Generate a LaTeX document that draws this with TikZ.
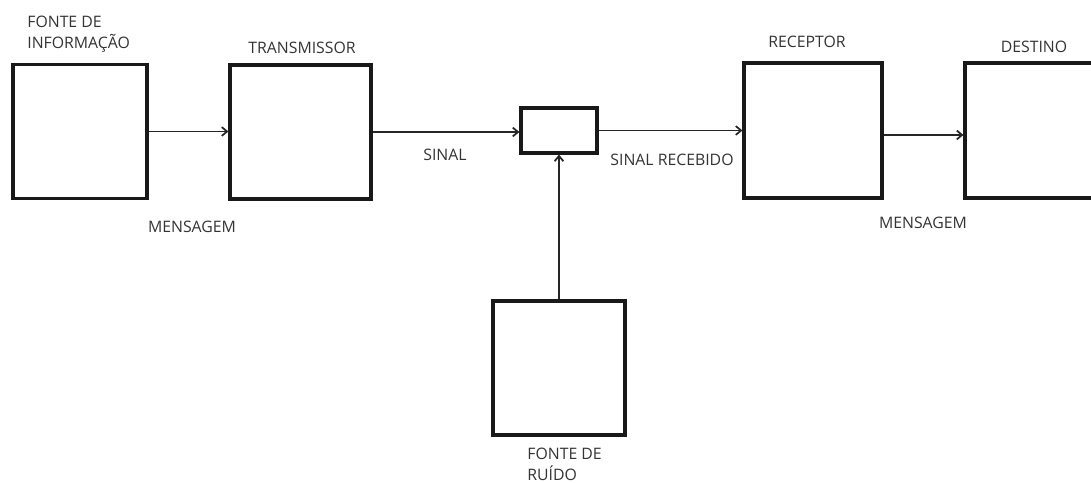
\documentclass[tikz,border=0pt]{standalone}
\usepackage{fontspec}
\setmainfont{Open Sans}
\usetikzlibrary{arrows.meta,positioning}

\begin{document}
\begin{tikzpicture}[
    x=0.02cm, y=-0.02cm,
    font=\fontsize{9}{12}\selectfont,
    % Estilos dos blocos e rótulos
    bloco/.style={rectangle, draw=black!90, line width=1.8pt, inner sep=0pt, minimum height=2.68cm},
    rotulo/.style={align=left, inner sep=0pt, text=black!80},
    seta/.style={-{Straight Barb[length=3pt,width=5pt]}, line width=1pt, draw=black!85}
  ]
  \useasboundingbox (0,0) rectangle (1091,483);

  % Blocos principais
  \node[bloco, minimum width=2.68cm] (fonte) at (80,131.5) {};
  \node[bloco, minimum width=2.82cm] (transmissor) at (300.5,132) {};
  \node[bloco, minimum width=1.52cm, minimum height=0.9cm] (canal) at (559,130.5) {};
  \node[bloco, minimum width=2.76cm, minimum height=2.7cm] (receptor) at (813,130.5) {};
  \node[bloco, minimum width=3.0cm, minimum height=2.7cm] (destino) at (1040,130.5) {};
  \node[bloco, minimum width=2.64cm] (ruido) at (559,368) {};

  % Rótulos
  \node[rotulo, anchor=west] (lfonte) at (27,34.5) {FONTE DE\\INFORMAÇÃO};
  \node[rotulo] (ltransmissor) at (302,48) {TRANSMISSOR};
  \node[rotulo] (lreceptor) at (807,42) {RECEPTOR};
  \node[rotulo] (ldestino) at (1034,47) {DESTINO};
  \node[rotulo] (lmsg1) at (192,227) {MENSAGEM};
  \node[rotulo] (lsinal) at (445,155) {SINAL};
  \node[rotulo] (lrecebido) at (672,160) {SINAL RECEBIDO};
  \node[rotulo] (lmsg2) at (923,223) {MENSAGEM};
  \node[rotulo, anchor=west] (lruido) at (527,464) {FONTE DE\\RUÍDO};

  % Conexões
  \coordinate (saida) at ([yshift=-0.09cm]receptor.east);
  \draw[seta] (fonte.east) -- (transmissor.west |- fonte.east);
  \draw[seta] (transmissor.east) -- (canal.west |- transmissor.east);
  \draw[seta] (canal.east) -- (receptor.west |- canal.east);
  \draw[seta] (saida) -- (destino.west |- saida);
  \draw[seta] (ruido.north) -- (canal.south);
\end{tikzpicture}
\end{document}
